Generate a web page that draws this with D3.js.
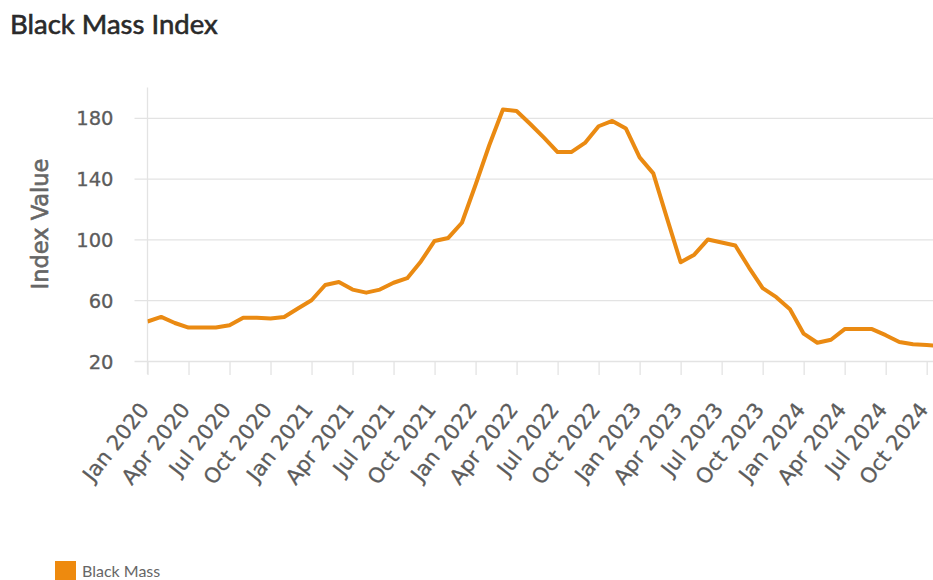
<!DOCTYPE html>
<html>
<head>
<meta charset="utf-8">
<script src="https://cdn.jsdelivr.net/npm/d3@7"></script>
<style>
  html, body { margin: 0; padding: 0; background: #fff; }
  svg { display: block; }
</style>
</head>
<body>
<svg id="chart" width="933" height="580"></svg>
<script>
// Monthly Black Mass index, Jan 2020 onwards
const startYear = 2020;
const seriesName = "Black Mass";
const indexValues = [
  46, 49, 45, 42, 42, 42, 43.5, 48.5, 48.5, 48, 49, 54.5,          // 2020
  60, 70, 72, 67, 65, 67, 71.5, 74.5, 85.5, 99, 101, 111,           // 2021
  136, 162, 185.5, 184.5, 176, 167, 157.5, 157.5, 163.5, 174.5, 178, 173, // 2022
  154, 143.5, 114, 85, 90, 100, 98, 96, 81.5, 68, 62, 54,           // 2023
  38, 32, 34, 41, 41, 41, 37, 32.5, 31, 30.5, 30                    // 2024
];
const monthNames = ["Jan", "Feb", "Mar", "Apr", "May", "Jun", "Jul", "Aug", "Sep", "Oct", "Nov", "Dec"];
const xTickLabels = [
  "Jan 2020", "Apr 2020", "Jul 2020", "Oct 2020",
  "Jan 2021", "Apr 2021", "Jul 2021", "Oct 2021",
  "Jan 2022", "Apr 2022", "Jul 2022", "Oct 2022",
  "Jan 2023", "Apr 2023", "Jul 2023", "Oct 2023",
  "Jan 2024", "Apr 2024", "Jul 2024", "Oct 2024"
];
const yTicks = [20, 60, 100, 140, 180];
const yDomain = [20, 200];

const W = 933, H = 580;
const plot = { left: 147.5, right: 933, top: 87.5, bottom: 361 };
const monthStep = 13.67;
const lineColor = "#ea8a12";
const gridColor = "#e3e3e3";
const tickFont = "'DejaVu Sans', sans-serif";
const tickColor = "#5c5c5c";

const svg = d3.select("#chart");

const data = indexValues.map((v, i) => ({
  i,
  label: monthNames[i % 12] + " " + (startYear + Math.floor(i / 12)),
  value: v
}));

const x = d3.scaleLinear()
  .domain([0, data.length - 1])
  .range([plot.left, plot.left + monthStep * (data.length - 1)]);

const y = d3.scaleLinear().domain(yDomain).range([plot.bottom, plot.top]);

// Title
svg.append("text")
  .attr("x", 10).attr("y", 34)
  .attr("font-family", "Lato, sans-serif")
  .attr("font-size", 27.5)
  .attr("font-weight", 400)
  .attr("fill", "#2a2a2a")
  .attr("stroke", "#2a2a2a")
  .attr("stroke-width", 0.6)
  .text("Black Mass Index");

// Horizontal gridlines + y ticks
const yAxis = d3.axisLeft(y)
  .tickValues(yTicks)
  .tickSize(-(plot.right - plot.left))
  .tickPadding(0)
  .tickFormat(d3.format("d"));

const gy = svg.append("g")
  .attr("transform", `translate(${plot.left},0)`)
  .call(yAxis);
gy.select(".domain").remove();
gy.selectAll(".tick line")
  .attr("x1", -13)
  .attr("stroke", gridColor)
  .attr("stroke-width", 1.3);
gy.selectAll(".tick text")
  .attr("x", -34)
  .attr("dy", "0.36em")
  .attr("font-family", tickFont)
  .attr("font-size", 19.5)
  .attr("fill", tickColor)
  .attr("stroke", tickColor)
  .attr("stroke-width", 0.3);

// Vertical axis line
svg.append("line")
  .attr("x1", plot.left).attr("x2", plot.left)
  .attr("y1", plot.top).attr("y2", plot.bottom + 13)
  .attr("stroke", gridColor)
  .attr("stroke-width", 1.3);

// X ticks every quarter
const quarterIdx = xTickLabels.map((_, k) => k * 3);
const xAxis = d3.axisBottom(x)
  .tickValues(quarterIdx)
  .tickSize(14)
  .tickFormat((d, k) => xTickLabels[k]);

const gx = svg.append("g")
  .attr("transform", `translate(0,${plot.bottom})`)
  .call(xAxis);
gx.select(".domain").remove();
gx.selectAll(".tick line")
  .attr("stroke", gridColor)
  .attr("stroke-width", 1.3);
gx.selectAll(".tick text")
  .attr("font-family", tickFont)
  .attr("font-size", 21)
  .attr("fill", tickColor)
  .attr("stroke", tickColor)
  .attr("stroke-width", 0.3)
  .attr("text-anchor", "end")
  .attr("y", 0).attr("dy", 0)
  .attr("transform", "translate(2,49) rotate(-52)");

// Y axis title
svg.append("text")
  .attr("transform", "translate(48,224) rotate(-90)")
  .attr("text-anchor", "middle")
  .attr("font-family", tickFont)
  .attr("font-size", 22.5)
  .attr("fill", "#666")
  .attr("stroke", "#666")
  .attr("stroke-width", 0.6)
  .text("Index Value");

// Series line
svg.append("clipPath").attr("id", "plot-clip")
  .append("rect")
  .attr("x", plot.left).attr("y", 0)
  .attr("width", plot.right - plot.left).attr("height", H);

const line = d3.line()
  .x(d => x(d.i))
  .y(d => y(d.value));

svg.append("path")
  .datum(data)
  .attr("clip-path", "url(#plot-clip)")
  .attr("fill", "none")
  .attr("stroke", lineColor)
  .attr("stroke-width", 4)
  .attr("stroke-linejoin", "round")
  .attr("stroke-linecap", "butt")
  .attr("d", line);

// Legend
const legend = svg.append("g").attr("transform", "translate(55,561)");
legend.append("rect")
  .attr("width", 21).attr("height", 20)
  .attr("fill", "#ee8a0e");
legend.append("text")
  .attr("x", 27).attr("y", 16)
  .attr("font-family", "Lato, sans-serif")
  .attr("font-size", 16)
  .attr("fill", "#666")
  .text(seriesName);
</script>
</body>
</html>
